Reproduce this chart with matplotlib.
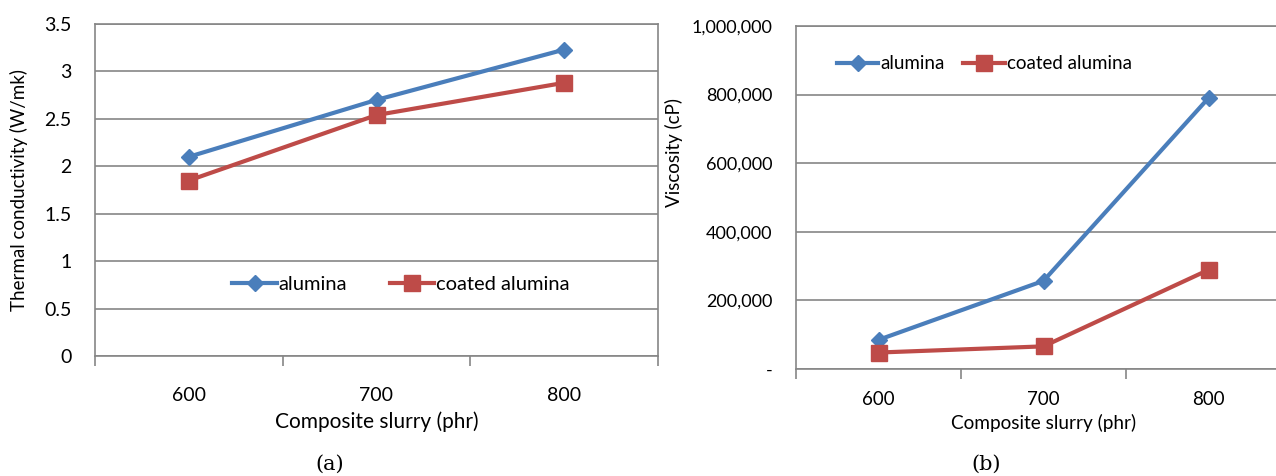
import numpy as np
import matplotlib.pyplot as plt
from matplotlib.ticker import FuncFormatter

# data
slurry = ['600', '700', '800']
tc_alumina = [2.10, 2.70, 3.23]
tc_coated = [1.85, 2.54, 2.88]
visc_alumina = [85000, 257000, 790000]
visc_coated = [48000, 66000, 289000]

blue = '#4a7ebb'
red = '#be4b48'
grey = '#868686'
font = ['Lato', 'DejaVu Sans']
serif = ['DejaVu Serif']

plt.rcParams['font.family'] = font

fig = plt.figure(figsize=(12.76, 4.76), dpi=100)
ax1 = fig.add_axes([95/1276, 1-356/476, 563/1276, 332/476])
ax2 = fig.add_axes([796/1276, 1-369/476, 495/1276, 343/476])

x = np.arange(len(slurry))


def style(ax, fs):
    for s in ax.spines.values():
        s.set_color(grey)
        s.set_linewidth(1.2)
    ax.set_xlim(-0.5, 2.5)
    ax.set_xticks(x)
    ax.set_xticklabels(slurry)
    ax.set_xticks([-0.5, 0.5, 1.5, 2.5], minor=True)
    ax.tick_params(axis='x', which='major', length=0, labelsize=fs, pad=22)
    ax.tick_params(axis='x', which='minor', length=7, color=grey, width=1.2)
    ax.tick_params(axis='y', length=0, labelsize=fs, pad=17)
    ax.grid(axis='y', color=grey, linewidth=1.2)
    ax.set_axisbelow(True)


# (a) thermal conductivity
ax1.plot(x, tc_alumina, color=blue, lw=3, marker='D', ms=8.5, label='alumina')
ax1.plot(x, tc_coated, color=red, lw=3, marker='s', ms=11, label='coated alumina')
style(ax1, 14)
ax1.set_ylim(0, 3.5)
ax1.set_yticks(np.arange(0, 3.51, 0.5))
ax1.yaxis.set_major_formatter(FuncFormatter(lambda v, p: f'{v:g}'))
ax1.set_ylabel('Thermal conductivity (W/mk)', fontsize=13.5)
ax1.yaxis.set_label_coords(-0.119, 0.5)
ax1.set_xlabel('Composite slurry (phr)', fontsize=15, labelpad=6)
ax1.legend(loc='center left', bbox_to_anchor=(0.212, 0.215), ncol=2, frameon=False,
           fontsize=14.5, handlelength=2.2, handletextpad=0.1, columnspacing=2.1)
fig.text(330/1276, 1-464/476, '(a)', ha='center', va='center',
         fontsize=15, family=serif)

# (b) viscosity
ax2.plot(x, visc_alumina, color=blue, lw=3, marker='D', ms=8.5, label='alumina')
ax2.plot(x, visc_coated, color=red, lw=3, marker='s', ms=11, label='coated alumina')
style(ax2, 13)
ax2.set_ylim(0, 1000000)
ax2.set_yticks(np.arange(0, 1000001, 200000))
ax2.yaxis.set_major_formatter(FuncFormatter(lambda v, p: '-' if v == 0 else f'{int(v):,}'))
ax2.tick_params(axis='x', which='major', labelsize=13.5, pad=16)
ax2.set_ylabel('Viscosity (cP)', fontsize=13.5)
ax2.yaxis.set_label_coords(-0.228, 0.63)
ax2.set_xlabel('Composite slurry (phr)', fontsize=13.7, labelpad=4)
ax2.legend(loc='center left', bbox_to_anchor=(0.049, 0.89), ncol=2, frameon=False,
           fontsize=13.5, handlelength=2.2, handletextpad=0.1, columnspacing=1.0)
fig.text(986/1276, 1-464/476, '(b)', ha='center', va='center',
         fontsize=15, family=serif)

fig.savefig('out.png', dpi=100)
